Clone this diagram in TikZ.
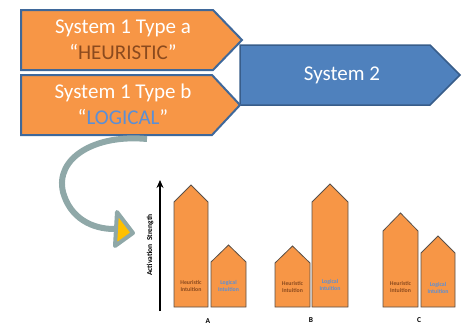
\documentclass[tikz,border=0pt]{standalone}
\usepackage{fontspec}
\usetikzlibrary{arrows.meta}
\setmainfont{Carlito}
\definecolor{orfill}{HTML}{F79646}
\definecolor{orline}{HTML}{3F689A}
\definecolor{bluefill}{HTML}{4F81BD}
\definecolor{blueline}{HTML}{385D8A}
\definecolor{heurcol}{HTML}{8B4A1E}
\definecolor{logcol}{HTML}{5B8FD6}
\definecolor{barline}{HTML}{5A5048}
\definecolor{curvecol}{HTML}{8FA8A8}
\definecolor{headfill}{HTML}{FFC000}
\tikzset{
  topbox/.style={fill=orfill, draw=orline, line width=2pt, line join=miter},
  sysbox/.style={fill=bluefill, draw=blueline, line width=1.5pt},
  bar/.style={fill=orfill, draw=barline, line width=0.8pt},
  bigtxt/.style={font=\fontsize{21}{23}\selectfont, text=white, align=center},
  bartxt/.style={font=\bfseries\fontsize{5.8}{7.5}\selectfont, align=center},
  caplbl/.style={font=\bfseries\fontsize{7.5}{9}\selectfont},
}
\begin{document}
\begin{tikzpicture}[x=1pt,y=-1pt]
\useasboundingbox (0,0) rectangle (465,324);
% System 2
\path[sysbox] (240,45) -- (430,45) -- (460,75) -- (430,105) -- (240,105) -- cycle;
\node[bigtxt] (s2) at (342,75) {System 2};
% Type a
\path[topbox] (21,10) -- (213,10) -- (242,40) -- (213,70) -- (21,70) -- cycle;
\node[bigtxt] (s1a) at (123,28) {System 1 Type a};
\node[bigtxt] (s1aq) at (123,52) {“\textcolor{heurcol}{HEURISTIC}”};
% Type b
\path[topbox] (21,75) -- (212,75) -- (240,105) -- (212,135) -- (21,135) -- cycle;
\node[bigtxt] (s1b) at (123,93) {System 1 Type b};
\node[bigtxt] (s1bq) at (123,117) {“\textcolor{logcol}{LOGICAL}”};
% curved arrow
\draw[curvecol, line width=6pt] (147,139) .. controls (95,134) and (55,158) .. (63,192) .. controls (70,218) and (92,229) .. (114,229);
\path[fill=headfill, draw=curvecol, line width=4pt, line join=round] (117,212) -- (133,233) -- (115,246) -- cycle;
% axis
\coordinate (ax0) at (160,311);
\coordinate (ax1) at (160,180);
\draw[line width=2.2pt, -{Stealth[length=8pt,width=7pt]}] (ax0) -- (ax1);
\node[caplbl, rotate=90] (axl) at (150,245) {Activation\ \ Strength};
% bars A
\path[bar] (174,307) -- (174,202) -- (191,185) -- (208,202) -- (208,307) -- cycle;
\path[bar] (211,307) -- (211,262) -- (228.5,245) -- (246,262) -- (246,307) -- cycle;
\node[bartxt, text=heurcol] (ah) at (191,286) {Heuristic\\Intuition};
\node[bartxt, text=logcol] (al) at (228.5,286) {Logical\\Intuition};
\node[caplbl] (la) at (208,321) {A};
% bars B
\path[bar] (275,307) -- (275,263) -- (292.5,246) -- (310,263) -- (310,307) -- cycle;
\path[bar] (312,307) -- (312,202) -- (330,184) -- (348,202) -- (348,307) -- cycle;
\node[bartxt, text=heurcol] (bh) at (292.5,287) {Heuristic\\Intuition};
\node[bartxt, text=logcol] (bl) at (330,285) {Logical\\Intuition};
\node[caplbl] (lb) at (311,320) {B};
% bars C
\path[bar] (383,307) -- (383,231) -- (400.5,213) -- (418,231) -- (418,307) -- cycle;
\path[bar] (421,307) -- (421,253) -- (438,236) -- (455,253) -- (455,307) -- cycle;
\node[bartxt, text=heurcol] (ch) at (400.5,287) {Heuristic\\Intuition};
\node[bartxt, text=logcol] (cl) at (438,288) {Logical\\Intuition};
\node[caplbl] (lc) at (419,320) {C};
\end{tikzpicture}
\end{document}
